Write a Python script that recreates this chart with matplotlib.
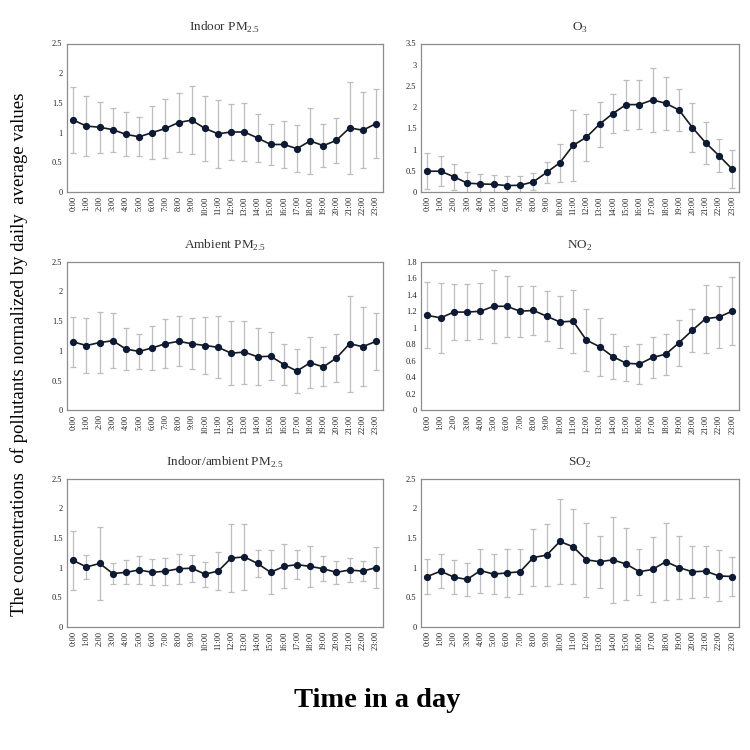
import numpy as np
import matplotlib
matplotlib.use("Agg")
import matplotlib.pyplot as plt
from matplotlib.ticker import FuncFormatter

plt.rcParams['font.family'] = ['Liberation Serif', 'DejaVu Serif']
plt.rcParams['mathtext.fontset'] = 'custom'
plt.rcParams['mathtext.rm'] = 'Liberation Serif'

hours = ["%d:00" % h for h in range(24)]

indoor_mean = [1.21, 1.11, 1.09, 1.05, 0.97, 0.93, 1.00, 1.07, 1.17, 1.21, 1.07, 0.98,
               1.01, 1.01, 0.91, 0.80, 0.80, 0.73, 0.86, 0.78, 0.87, 1.08, 1.04, 1.15]
indoor_sd = [0.56, 0.50, 0.43, 0.37, 0.37, 0.33, 0.45, 0.49, 0.50, 0.57, 0.54, 0.57,
             0.47, 0.49, 0.41, 0.34, 0.39, 0.39, 0.55, 0.36, 0.38, 0.77, 0.64, 0.58]

o3_mean = [0.49, 0.49, 0.36, 0.21, 0.19, 0.18, 0.15, 0.16, 0.24, 0.46, 0.69, 1.10,
           1.29, 1.60, 1.85, 2.06, 2.06, 2.17, 2.09, 1.93, 1.52, 1.16, 0.86, 0.54]
o3_sd = [0.42, 0.36, 0.31, 0.25, 0.23, 0.23, 0.22, 0.22, 0.20, 0.25, 0.45, 0.84,
         0.55, 0.53, 0.45, 0.59, 0.57, 0.76, 0.63, 0.50, 0.57, 0.50, 0.40, 0.44]

ambient_mean = [1.15, 1.09, 1.14, 1.17, 1.03, 0.99, 1.05, 1.12, 1.16, 1.12, 1.09, 1.06,
                0.96, 0.98, 0.90, 0.91, 0.77, 0.66, 0.80, 0.73, 0.88, 1.12, 1.07, 1.16]
ambient_sd = [0.42, 0.46, 0.51, 0.46, 0.35, 0.30, 0.37, 0.41, 0.42, 0.43, 0.48, 0.52,
              0.54, 0.53, 0.48, 0.40, 0.35, 0.37, 0.43, 0.33, 0.40, 0.81, 0.66, 0.48]

no2_mean = [1.15, 1.12, 1.19, 1.19, 1.20, 1.26, 1.26, 1.20, 1.21, 1.14, 1.07, 1.08,
            0.85, 0.77, 0.65, 0.57, 0.56, 0.64, 0.68, 0.82, 0.97, 1.11, 1.13, 1.20]
no2_sd = [0.40, 0.42, 0.34, 0.34, 0.34, 0.44, 0.37, 0.31, 0.30, 0.30, 0.32, 0.38,
          0.38, 0.35, 0.27, 0.21, 0.24, 0.25, 0.25, 0.28, 0.26, 0.41, 0.38, 0.41]

ratio_mean = [1.12, 1.01, 1.07, 0.90, 0.92, 0.96, 0.92, 0.94, 0.98, 0.99, 0.89, 0.94,
              1.16, 1.18, 1.07, 0.92, 1.02, 1.05, 1.02, 0.98, 0.92, 0.96, 0.94, 1.00]
ratio_sd = [0.50, 0.21, 0.62, 0.17, 0.20, 0.23, 0.22, 0.23, 0.25, 0.23, 0.21, 0.32,
            0.57, 0.56, 0.23, 0.37, 0.37, 0.25, 0.35, 0.21, 0.19, 0.21, 0.17, 0.35]

so2_mean = [0.85, 0.94, 0.84, 0.80, 0.95, 0.89, 0.91, 0.93, 1.17, 1.21, 1.44, 1.35,
            1.13, 1.10, 1.13, 1.06, 0.93, 0.97, 1.10, 1.00, 0.93, 0.94, 0.86, 0.85]
so2_sd = [0.29, 0.29, 0.29, 0.27, 0.37, 0.34, 0.40, 0.38, 0.48, 0.52, 0.72, 0.63,
          0.62, 0.44, 0.73, 0.60, 0.39, 0.55, 0.65, 0.53, 0.44, 0.43, 0.43, 0.33]

panels = [
    ("Indoor PM$_{2.5}$", indoor_mean, indoor_sd, 2.5, 0.5),
    ("O$_3$", o3_mean, o3_sd, 3.5, 0.5),
    ("Ambient PM$_{2.5}$", ambient_mean, ambient_sd, 2.5, 0.5),
    ("NO$_2$", no2_mean, no2_sd, 1.8, 0.2),
    ("Indoor/ambient PM$_{2.5}$", ratio_mean, ratio_sd, 2.5, 0.5),
    ("SO$_2$", so2_mean, so2_sd, 2.5, 0.5),
]

fig = plt.figure(figsize=(7.5, 7.5), dpi=100)
lefts = [0.089, 0.561]
widths = [0.421, 0.424]
bottoms = [0.744, 0.453, 0.164]
height = 0.198

x = np.arange(24)
for i, (title, mean, sd, ymax, step) in enumerate(panels):
    row, col = divmod(i, 2)
    ax = fig.add_axes([lefts[col], bottoms[row], widths[col], height])
    ax.errorbar(x, mean, yerr=sd, fmt='none', ecolor='#bdbdbd', elinewidth=0.9,
                capsize=2.5, capthick=0.9, zorder=1)
    ax.plot(x, mean, color='#1a1a1a', lw=1.2, marker='o', ms=4.2,
            mfc='#0b1a36', mec='#0b1a36', zorder=3)
    ax.set_xlim(-0.5, 23.5)
    ax.set_ylim(0, ymax)
    ax.set_yticks(np.arange(0, ymax + step / 2, step))
    ax.yaxis.set_major_formatter(FuncFormatter(lambda v, p: "%g" % round(v, 2)))
    ax.set_xticks(x)
    ax.set_xticklabels(hours, rotation=90)
    ax.tick_params(length=0, labelsize=6, pad=3, colors='#222222')
    for s in ax.spines.values():
        s.set_color('#8c8c8c')
        s.set_linewidth(0.9)
    ax.set_title(title, fontsize=9.5, pad=9, color='#333333')

fig.text(0.503, 0.066, "Time in a day", ha='center', va='center',
         fontsize=20.5, fontweight='bold')
fig.text(0.025, 0.528, "The concentrations  of pollutants normalized by daily  average values",
         rotation=90, ha='center', va='center', fontsize=13.5)

fig.savefig("out.png", dpi=100)
